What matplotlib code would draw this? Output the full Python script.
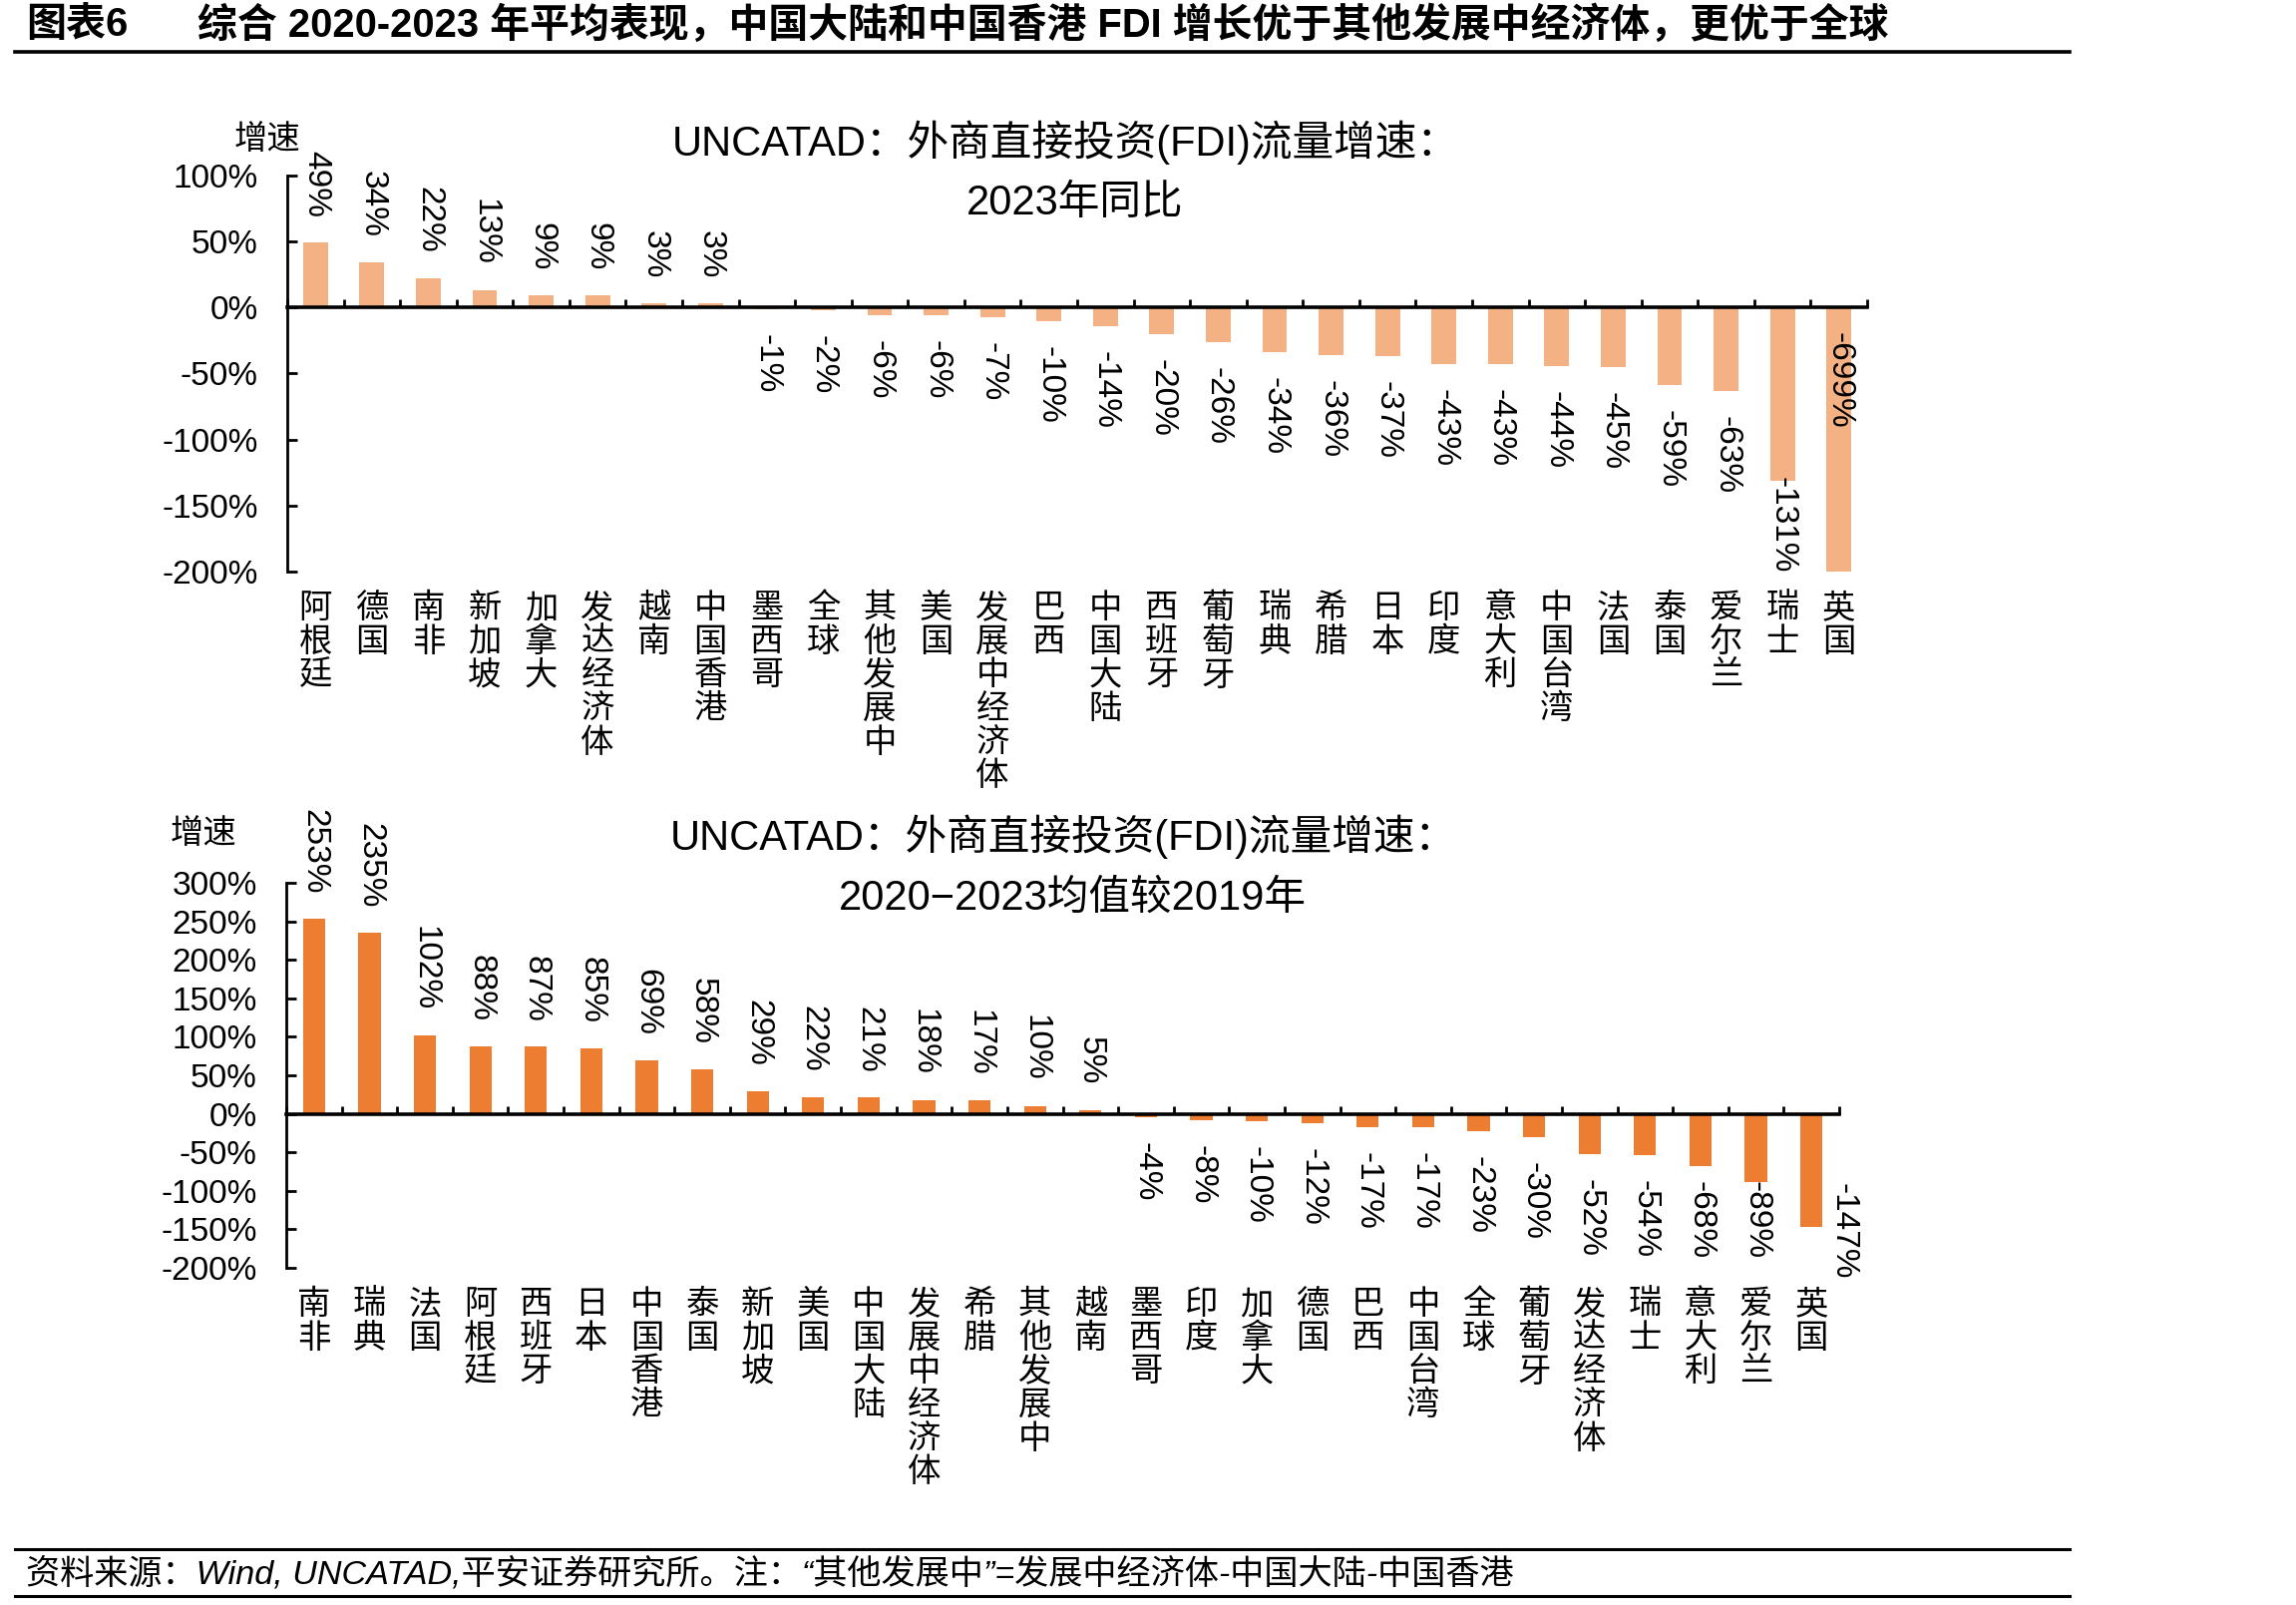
import numpy as np
import matplotlib
matplotlib.use("Agg")
import matplotlib.pyplot as plt
from matplotlib.lines import Line2D
from matplotlib.ticker import FuncFormatter

plt.rcParams["font.family"] = ["Liberation Sans", "Noto Sans CJK SC", "DejaVu Sans"]

# ---------------------------------------------------------------------------
# Data
# ---------------------------------------------------------------------------

# 2023 YoY FDI growth
top_names = ["阿根廷", "德国", "南非", "新加坡", "加拿大", "发达经济体", "越南", "中国香港",
             "墨西哥", "全球", "其他发展中", "美国", "发展中经济体", "巴西", "中国大陆",
             "西班牙", "葡萄牙", "瑞典", "希腊", "日本", "印度", "意大利", "中国台湾",
             "法国", "泰国", "爱尔兰", "瑞士", "英国"]
top_values = [49, 34, 22, 13, 9, 9, 3, 3, -1, -2, -6, -6, -7, -10, -14, -20, -26, -34,
              -36, -37, -43, -43, -44, -45, -59, -63, -131, -699]

# 2020-2023 average vs 2019
bottom_names = ["南非", "瑞典", "法国", "阿根廷", "西班牙", "日本", "中国香港", "泰国",
                "新加坡", "美国", "中国大陆", "发展中经济体", "希腊", "其他发展中", "越南",
                "墨西哥", "印度", "加拿大", "德国", "巴西", "中国台湾", "全球", "葡萄牙",
                "发达经济体", "瑞士", "意大利", "爱尔兰", "英国"]
bottom_values = [253, 235, 102, 88, 87, 85, 69, 58, 29, 22, 21, 18, 17, 10, 5, -4, -8, -10,
                 -12, -17, -17, -23, -30, -52, -54, -68, -89, -147]

top_yticks = [100, 50, 0, -50, -100, -150, -200]
bottom_yticks = [300, 250, 200, 150, 100, 50, 0, -50, -100, -150, -200]

TOP_COLOR = "#F4B183"
BOTTOM_COLOR = "#ED7D31"

W, H, DPI = 2302, 1609, 100


def px2pt(px):
    return px * 72 / DPI


def fx(px):
    return px / W


def fy(px):
    return 1 - px / H


fig = plt.figure(figsize=(W / DPI, H / DPI), dpi=DPI)


def draw_panel(rect, names, values, color, ylim, yticks, bar_w, below_px, overlap_below_px):
    ax = fig.add_axes(rect)
    x = np.arange(len(names))
    ax.bar(x, values, width=bar_w, color=color, zorder=2)
    ax.set_xlim(-0.5, len(names) - 0.5)
    ax.set_ylim(*ylim)
    ax.set_yticks(yticks)
    ax.yaxis.set_major_formatter(FuncFormatter(lambda v, p: f"{v:.0f}%"))
    ax.set_xticks(np.arange(len(names) + 1) - 0.5)
    ax.set_xticklabels([])
    for s in ["top", "right"]:
        ax.spines[s].set_visible(False)
    ax.spines["bottom"].set_position(("data", 0))
    ax.spines["bottom"].set_linewidth(2.6)
    ax.spines["bottom"].set_zorder(3)
    ax.spines["left"].set_linewidth(2.0)
    ax.tick_params(axis="y", direction="in", length=7, width=2, pad=21, labelsize=24)
    ax.tick_params(axis="x", direction="in", length=6, width=2)
    ax.patch.set_visible(False)

    # value labels
    off = px2pt(25)
    anns = []
    for i, v in enumerate(values):
        clipped = v < ylim[0]
        if clipped:
            xy, dy, va = (i, 0), -off, "top"
        elif v >= 0:
            xy, dy, va = (i, v), off, "bottom"
        else:
            xy, dy, va = (i, v), -off, "top"
        ann = ax.annotate(f"{v}%", xy=xy, xytext=(0, dy), textcoords="offset points",
                          rotation=270, ha="center", va=va, fontsize=24,
                          annotation_clip=False, zorder=4)
        anns.append((ann, v, clipped))

    # category labels, stacked vertically
    for i, name in enumerate(names):
        ax.annotate("\n".join(name), xy=(i, 0), xycoords=("data", "axes fraction"),
                    xytext=(0, -px2pt(22)), textcoords="offset points",
                    ha="center", va="top", fontsize=24, linespacing=1.11,
                    annotation_clip=False)

    # keep negative labels inside the plot like Excel does
    fig.canvas.draw()
    r = fig.canvas.get_renderer()
    ax_bottom = ax.transAxes.transform((0, 0))[1]
    for ann, v, clipped in anns:
        if v >= 0 or clipped:
            continue
        bb = ann.get_window_extent(r)
        limit = ax_bottom - below_px
        if bb.y0 < limit:
            shift = limit - bb.y0
            bar_end = ax.transData.transform((0, v))[1]
            dx = 0
            if bb.y1 + shift > bar_end + 15:
                # label would sit on the bar: move it beside the bar
                shift = (ax_bottom - overlap_below_px) - bb.y0
                dx = px2pt(32)
            x0, y0 = ann.xyann
            ann.xyann = (x0 + dx, y0 + px2pt(shift))
    return ax


ax1 = draw_panel([fx(288), fy(573), fx(1872 - 288), (573 - 176) / H],
                 top_names, top_values, TOP_COLOR, (-200, 100), top_yticks, 0.44,
                 below_px=2, overlap_below_px=11)
ax2 = draw_panel([fx(287), fy(1271), fx(1844 - 287), (1271 - 885) / H],
                 bottom_names, bottom_values, BOTTOM_COLOR, (-200, 300), bottom_yticks, 0.40,
                 below_px=-9, overlap_below_px=11)

# chart titles and unit labels
fig.text(fx(1068), fy(143), "UNCATAD：外商直接投资(FDI)流量增速：", ha="center", va="center",
         fontsize=30)
fig.text(fx(1078), fy(204), "2023年同比", ha="center", va="center", fontsize=30)
fig.text(fx(1066), fy(839), "UNCATAD：外商直接投资(FDI)流量增速：", ha="center", va="center",
         fontsize=30)
fig.text(fx(1075), fy(901), "2020\u22122023均值较2019年", ha="center", va="center", fontsize=30)
fig.text(fx(268), fy(140), "增速", ha="center", va="center", fontsize=24)
fig.text(fx(204), fy(837), "增速", ha="center", va="center", fontsize=24)

# header
fig.text(fx(26), fy(25), "图表6", ha="left", va="center", fontsize=28.8, fontweight="bold")
fig.text(fx(198), fy(25),
         "综合 2020-2023 年平均表现，中国大陆和中国香港 FDI 增长优于其他发展中经济体，更优于全球",
         ha="left", va="center", fontsize=28.7, fontweight="bold")
fig.add_artist(Line2D([fx(15), fx(2075)], [fy(52), fy(52)], color="black", linewidth=2.6))

# footer
fig.add_artist(Line2D([fx(15), fx(2075)], [fy(1553), fy(1553)], color="black", linewidth=2.2))
fig.add_artist(Line2D([fx(15), fx(2075)], [fy(1600), fy(1600)], color="black", linewidth=2.2))
fig.text(fx(26), fy(1578),
         "资料来源：Wind, UNCATAD,平安证券研究所。注：“其他发展中”=发展中经济体-中国大陆-中国香港",
         ha="left", va="center", fontsize=24.6, style="italic")

fig.savefig("out.png", dpi=DPI)
